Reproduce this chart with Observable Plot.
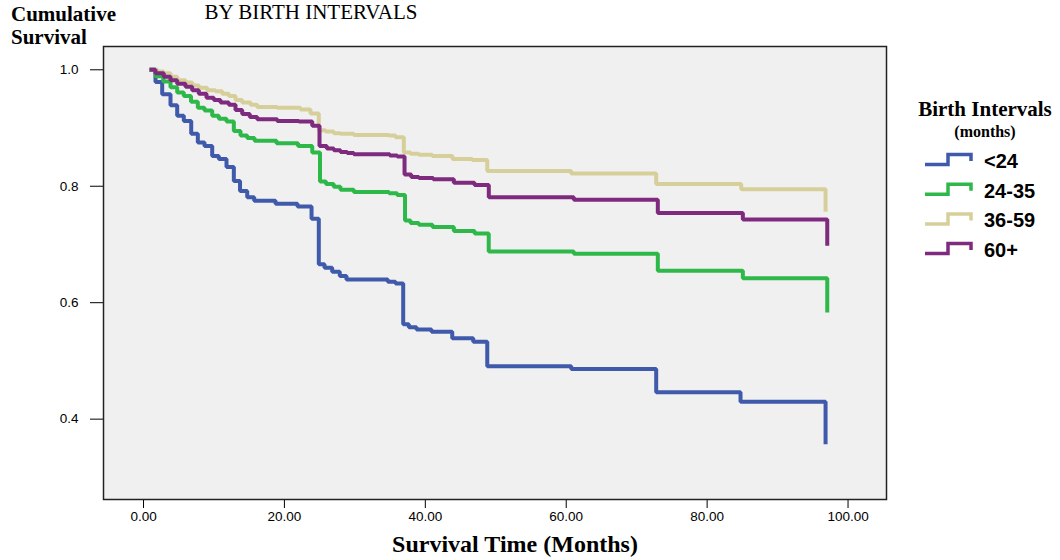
<!DOCTYPE html>
<html><head><meta charset="utf-8">
<script src="https://cdn.jsdelivr.net/npm/d3@7"></script>
<script src="https://cdn.jsdelivr.net/npm/@observablehq/plot@0.6"></script>
<style>body{margin:0;background:#fff}</style>
</head><body><div id="chart"></div>
<script>
const groups = ["<24", "24-35", "36-59", "60+"];
const colors = ["#3f5aab", "#2fb84a", "#d6cf99", "#7e2a7e"];
const xTicks = [0, 20, 40, 60, 80, 100];
const yTicks = [0.4, 0.6, 0.8, 1.0];

const timeLt24 = [0.85,1.70,2.65,3.83,4.78,5.72,6.77,7.71,8.66,9.75,10.69,11.78,12.82,13.70,14.72,15.71,18.74,21.86,23.85,24.88,25.69,26.78,27.86,28.81,34.68,35.77,36.86,37.66,38.75,40.88,43.82,46.80,48.79,60.71,72.77,84.74,96.81];
const survLt24 = [1.0,0.979,0.958,0.939,0.921,0.912,0.890,0.875,0.869,0.852,0.847,0.833,0.809,0.792,0.781,0.775,0.770,0.765,0.744,0.666,0.660,0.653,0.646,0.640,0.636,0.633,0.563,0.558,0.554,0.550,0.539,0.533,0.491,0.486,0.446,0.430,0.357];

const time2435 = [0.85,1.70,2.80,3.83,4.78,5.72,6.74,7.71,8.66,9.75,10.69,11.78,12.82,13.77,14.72,15.76,18.88,21.93,23.95,25.05,25.90,27.00,27.96,29.85,34.85,36.00,37.12,37.90,39.08,41.02,44.05,47.00,49.00,61.08,73.00,85.07,97.05];
const surv2435 = [1.0,0.989,0.980,0.970,0.961,0.955,0.945,0.935,0.930,0.921,0.916,0.911,0.895,0.887,0.883,0.878,0.874,0.869,0.858,0.808,0.804,0.799,0.794,0.790,0.788,0.785,0.741,0.737,0.734,0.730,0.723,0.719,0.688,0.684,0.655,0.642,0.583];

const time3659 = [0.85,1.99,2.88,3.83,4.78,5.96,6.91,7.85,9.04,10.22,11.17,12.11,13.06,14.01,15.19,16.14,18.98,22.29,23.70,24.88,25.83,27.01,27.96,29.85,34.82,35.77,36.95,37.90,39.08,40.98,43.86,46.66,48.79,60.71,72.77,84.84,96.81];
const surv3659 = [1.0,0.997,0.994,0.988,0.982,0.978,0.973,0.969,0.965,0.963,0.959,0.955,0.948,0.944,0.940,0.936,0.935,0.932,0.925,0.896,0.894,0.891,0.890,0.888,0.887,0.884,0.858,0.856,0.854,0.852,0.847,0.845,0.826,0.822,0.804,0.795,0.756];

const time60 = [0.85,1.70,2.88,3.83,4.78,5.96,6.91,7.85,8.94,9.98,10.93,12.11,13.06,14.01,15.09,16.14,18.98,22.04,23.95,24.98,26.02,27.01,27.96,28.91,29.85,34.96,36.01,37.05,38.00,39.08,41.12,44.05,46.98,49.01,61.08,73.00,85.07,97.05];
const surv60 = [1.0,0.994,0.988,0.982,0.976,0.971,0.965,0.959,0.952,0.948,0.944,0.940,0.931,0.924,0.919,0.915,0.912,0.911,0.904,0.869,0.865,0.862,0.859,0.857,0.855,0.853,0.851,0.820,0.816,0.814,0.812,0.806,0.802,0.781,0.777,0.754,0.743,0.698];

const series = [[timeLt24, survLt24], [time2435, surv2435], [time3659, surv3659], [time60, surv60]];
const rows = [];
series.forEach(([ts, ss], i) => ts.forEach((t, j) => rows.push({g: groups[i], t, s: ss[j]})));

const plot = Plot.plot({
  width: 1060, height: 560,
  marginTop: 46, marginRight: 174, marginBottom: 61, marginLeft: 103,
  style: {fontFamily: "'Liberation Sans', Arial, sans-serif", fontSize: "13px", background: "#fff", color: "#000"},
  x: {domain: [-5.68, 105.46]},
  y: {domain: [0.262, 1.040]},
  color: {domain: groups, range: colors},
  marks: [
    Plot.frame({fill: "#f0f0f0"}),
    Plot.axisX({ticks: xTicks, tickFormat: d => d.toFixed(2), tickSize: 9, tickPadding: 3, label: null}),
    Plot.axisY({ticks: yTicks, tickFormat: d => d.toFixed(1), tickSize: 13, tickPadding: 12, label: null}),
    Plot.line(rows, {x: "t", y: "s", z: "g", stroke: "g", curve: "step-after", strokeWidth: 4,
      strokeLinejoin: "miter", strokeLinecap: "butt"}),
    Plot.frame({stroke: "#222", strokeWidth: 1.5})
  ]
});

const svg = d3.select(plot);
svg.selectAll('[aria-label$="tick label"]').attr("font-size", 13.5).selectAll("text").attr("font-size", 13.5);
const serif = "'Liberation Serif', 'Times New Roman', serif";
function label(x, y, txt, size, opts = {}) {
  return svg.append("text").attr("x", x).attr("y", y)
    .attr("text-anchor", opts.anchor || "start")
    .attr("font-family", opts.family || serif)
    .attr("font-weight", opts.weight || "normal")
    .attr("font-size", size).attr("fill", "#000").text(txt);
}
label(311, 19, "BY BIRTH INTERVALS", 21, {anchor: "middle"});
label(11, 21, "Cumulative", 21, {weight: "bold"});
label(11, 44, "Survival", 21, {weight: "bold"});
label(515, 552, "Survival Time (Months)", 24, {anchor: "middle", weight: "bold"});

// legend
label(985, 116, "Birth Intervals", 21, {anchor: "middle", weight: "bold"});
label(985, 137, "(months)", 16, {anchor: "middle", weight: "bold"});
groups.forEach((g, i) => {
  const c = 161 + i * 29.7;
  svg.append("path")
    .attr("d", `M925,${c + 3.5}H948V${c - 6.5}H971V${c}`)
    .attr("fill", "none").attr("stroke", colors[i]).attr("stroke-width", 3.5);
  label(984, c, g, 20, {weight: "bold", family: "'Liberation Sans', Arial, sans-serif"}).attr("dy", "0.35em");
});

document.getElementById("chart").appendChild(plot);
</script>
</body></html>
